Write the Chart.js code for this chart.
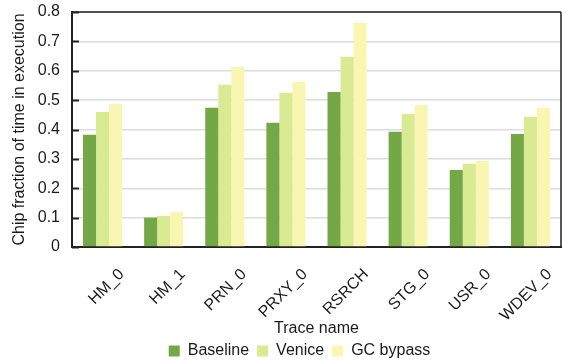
<!DOCTYPE html>
<html>
<head>
<meta charset="utf-8">
<script src="https://cdn.jsdelivr.net/npm/chart.js@4/dist/chart.umd.min.js"></script>
<style>
  html, body { margin: 0; padding: 0; background: #fff; }
  #wrap { width: 562px; height: 362px; }
</style>
</head>
<body>
<div id="wrap"><canvas id="c" width="562" height="362"></canvas></div>
<script>
// Trace workloads on the x axis
const traces = ['HM_0', 'HM_1', 'PRN_0', 'PRXY_0', 'RSRCH', 'STG_0', 'USR_0', 'WDEV_0'];
// Chip fraction of time in execution, per scheme
const baseline = [0.382, 0.100, 0.474, 0.423, 0.528, 0.392, 0.262, 0.385];
const venice   = [0.460, 0.106, 0.552, 0.525, 0.648, 0.453, 0.283, 0.443];
const gcBypass = [0.487, 0.119, 0.613, 0.562, 0.763, 0.484, 0.293, 0.474];
const yTicks = [0, 0.1, 0.2, 0.3, 0.4, 0.5, 0.6, 0.7, 0.8];

const FONT = "'Liberation Sans', Arial, sans-serif";
Chart.defaults.font.family = FONT;
Chart.defaults.color = '#1a1a1a';

// Frame around the plot and short inward ticks on the y axis
const framePlugin = {
  id: 'frame',
  afterDatasetsDraw(chart) {
    const { ctx, chartArea: a, scales } = chart;
    ctx.save();
    ctx.strokeStyle = '#222';
    ctx.lineWidth = 1.5;
    ctx.beginPath();
    ctx.moveTo(a.left, a.top); ctx.lineTo(a.right, a.top);
    ctx.moveTo(a.right, a.top); ctx.lineTo(a.right, a.bottom);
    ctx.stroke();
    ctx.lineWidth = 2;
    scales.y.ticks.forEach(t => {
      const y = Math.round(scales.y.getPixelForValue(t.value)) + 0.5;
      ctx.beginPath();
      ctx.moveTo(a.left, y); ctx.lineTo(a.left + 7, y);
      ctx.stroke();
    });
    ctx.restore();
  }
};

new Chart(document.getElementById('c'), {
  type: 'bar',
  data: {
    labels: traces,
    datasets: [
      { label: 'Baseline', data: baseline, backgroundColor: '#74a846' },
      { label: 'Venice', data: venice, backgroundColor: '#d8eb92' },
      { label: 'GC bypass', data: gcBypass, backgroundColor: '#f8f6b0' }
    ]
  },
  options: {
    responsive: false,
    animation: false,
    layout: { padding: { left: 38, right: 1, top: 12, bottom: -7 } },
    datasets: { bar: { categoryPercentage: 0.64, barPercentage: 1.0, borderWidth: 0 } },
    scales: {
      x: {
        afterFit(scale) {
          scale.height = 88;
          scale.paddingLeft = 0; scale.paddingRight = 0;
          scale.paddingTop = 0; scale.paddingBottom = 0;
        },
        grid: { display: false, drawTicks: false },
        border: { color: '#222', width: 2 },
        ticks: { font: { size: 16 }, maxRotation: 45, minRotation: 45, padding: 18, labelOffset: 19, color: '#1a1a1a' },
        title: { display: true, text: 'Trace name', font: { size: 16 }, color: '#1a1a1a', padding: { top: 0, bottom: -3 } }
      },
      y: {
        min: 0, max: 0.8,
        afterBuildTicks(scale) { scale.ticks = yTicks.map(v => ({ value: v })); },
        afterFit(scale) {
          scale.width = 34;
          scale.paddingTop = 0; scale.paddingBottom = 0;
        },
        grid: { color: '#dcdcdc', lineWidth: 1.5, drawTicks: false },
        border: { color: '#222', width: 2 },
        ticks: {
          font: { size: 16 }, padding: 12, color: '#1a1a1a',
          callback: v => (v === 0 ? '0' : v.toFixed(1))
        },
        title: { display: true, text: 'Chip fraction of time in execution', font: { size: 16 }, color: '#1a1a1a', padding: { top: -28, bottom: 0 } }
      }
    },
    plugins: {
      legend: {
        position: 'bottom',
        labels: { font: { size: 16 }, boxWidth: 11, boxHeight: 11, padding: 8, color: '#1a1a1a' }
      },
      tooltip: { enabled: false }
    }
  },
  plugins: [framePlugin]
});
</script>
</body>
</html>
